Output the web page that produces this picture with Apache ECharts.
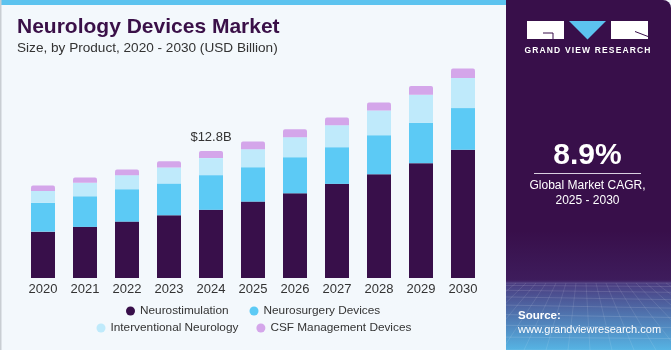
<!DOCTYPE html>
<html>
<head>
<meta charset="utf-8">
<script src="https://cdn.jsdelivr.net/npm/echarts@6/dist/echarts.min.js"></script>
<style>
html,body{margin:0;padding:0;background:#f3f8fc;}
#c{width:671px;height:350px;}
</style>
</head>
<body>
<div id="c"></div>
<script>
const categories = ['2020','2021','2022','2023','2024','2025','2026','2027','2028','2029','2030'];
const neurostimulation = [4.68, 5.16, 5.69, 6.33, 6.88, 7.71, 8.55, 9.50, 10.47, 11.59, 12.94];
const neurosurgery = [2.90, 3.09, 3.27, 3.21, 3.50, 3.47, 3.64, 3.70, 3.94, 4.08, 4.21];
const interventional = [1.21, 1.35, 1.42, 1.62, 1.72, 1.82, 2.02, 2.22, 2.50, 2.83, 3.03];
const csf = [0.54, 0.54, 0.58, 0.61, 0.71, 0.78, 0.81, 0.78, 0.81, 0.87, 0.95];
const labelIndex = 4;
const labelText = '$12.8B';

const FONT = '"Liberation Sans", Arial, sans-serif';
const chart = echarts.init(document.getElementById('c'), null, {renderer:'canvas'});

// decorative grid in the side panel
const deco = [];
const px0 = 506, px1 = 671, gy0 = 283, gy1 = 350;
for (let i = 0; i < 9; i++) {
  const t = i / 8;
  const y = gy0 + Math.pow(t, 1.6) * (gy1 - gy0);
  deco.push({type:'line', shape:{x1:px0, y1:y, x2:px1, y2:y + Math.sin(t*3)*3}, style:{stroke:'rgba(255,255,255,0.18)', lineWidth:0.7}, silent:true});
}
for (let i = -8; i <= 20; i++) {
  const xTop = px0 + i * 10;
  const xBot = px0 + (i - 6) * 22 + 40;
  deco.push({type:'line', shape:{x1:xTop, y1:gy0, x2:xBot, y2:gy1}, style:{stroke:'rgba(255,255,255,0.15)', lineWidth:0.7}, silent:true});
}

// letter-spaced logo caption
const brand = 'GRAND VIEW RESEARCH';
const brandEls = [];
(function(){
  const ctx = document.createElement('canvas').getContext('2d');
  const f = 'bold 8.5px ' + FONT;
  ctx.font = f;
  const ls = 1.15;
  const widths = brand.split('').map(ch => ctx.measureText(ch).width);
  const total = widths.reduce((a,b)=>a+b,0) + ls*(brand.length-1);
  let x = 587.5 - total/2;
  brand.split('').forEach((ch, i) => {
    brandEls.push({type:'text', x:x, y:51, style:{text:ch, fill:'#ffffff', font:f, verticalAlign:'middle'}, silent:true});
    x += widths[i] + ls;
  });
})();

const csfData = csf.map((v, i) => i === labelIndex ? {
  value: v,
  label: {show:true, position:'top', distance:7, formatter: labelText, color:'#333', fontSize:13, fontFamily:FONT}
} : v);

const option = {
  backgroundColor: '#f3f8fc',
  animation: false,
  textStyle: {fontFamily: FONT},
  grid: {left:22, right:187, top:60, bottom:72, containLabel:false},
  xAxis: {
    type:'category', data: categories,
    axisLine:{show:false}, axisTick:{show:false},
    axisLabel:{color:'#333', fontSize:13, margin:5, fontFamily:FONT}
  },
  yAxis: {type:'value', min:0, max:22, show:false, splitLine:{show:false}},
  legend: [
    {data:['Neurostimulation','Neurosurgery Devices'], left:126, top:305, padding:0, itemGap:21,
     icon:'circle', itemWidth:9, itemHeight:9, textStyle:{color:'#333', fontSize:11.8, fontFamily:FONT}},
    {data:['Interventional Neurology','CSF Management Devices'], left:96.5, top:322, padding:0, itemGap:18,
     icon:'circle', itemWidth:9, itemHeight:9, textStyle:{color:'#333', fontSize:11.8, fontFamily:FONT}}
  ],
  series: [
    {name:'Neurostimulation', type:'bar', stack:'t', data:neurostimulation, barWidth:24, itemStyle:{color:'#380f4a'}},
    {name:'Neurosurgery Devices', type:'bar', stack:'t', data:neurosurgery, barWidth:24, itemStyle:{color:'#5ccaf5'}},
    {name:'Interventional Neurology', type:'bar', stack:'t', data:interventional, barWidth:24, itemStyle:{color:'#bfeafb'}},
    {name:'CSF Management Devices', type:'bar', stack:'t', data:csfData, barWidth:24, itemStyle:{color:'#d4a6ea', borderRadius:[2,2,0,0]}}
  ],
  graphic: [
    // left panel frame
    {type:'rect', shape:{x:0, y:0, width:506, height:5}, style:{fill:'#5cc3ef'}, silent:true, z:-1},
    {type:'rect', shape:{x:0, y:0, width:1.5, height:350}, style:{fill:'#c9ced3'}, silent:true},
    // title
    {type:'text', left:17, top:17, style:{text:'Neurology Devices Market', fill:'#3a1048', font:'bold 21px ' + FONT}},
    {type:'text', left:17, top:41, style:{text:'Size, by Product, 2020 - 2030 (USD Billion)', fill:'#333', font:'13.6px ' + FONT}},
    // right panel
    {type:'rect', shape:{x:506, y:0, width:165, height:350, r:[0,8,0,0]},
     style:{fill:{type:'linear', x:0, y:0, x2:0, y2:1, colorStops:[
       {offset:0, color:'#380f4a'}, {offset:0.66, color:'#380f4a'}, {offset:0.8, color:'#3e1c5c'},
       {offset:0.81, color:'#4a3c80'}, {offset:1, color:'#56b4e4'}]}}, silent:true},
    ...deco,
    // logo
    {type:'rect', shape:{x:527, y:21, width:37, height:18}, style:{fill:'#ffffff'}, silent:true},
    {type:'polyline', shape:{points:[[543,33],[553,33],[553,39]]}, style:{stroke:'#380f4a', lineWidth:1, fill:null}, silent:true},
    {type:'polygon', shape:{points:[[569,21],[606,21],[587.5,39.5]]}, style:{fill:'#5cc3ef'}, silent:true},
    {type:'rect', shape:{x:611, y:21, width:37, height:18}, style:{fill:'#ffffff'}, silent:true},
    {type:'line', shape:{x1:635, y1:31.5, x2:648, y2:36.5}, style:{stroke:'#380f4a', lineWidth:1}, silent:true},
    ...brandEls,
    // CAGR
    {type:'text', x:587.5, y:156, style:{text:'8.9%', fill:'#ffffff', font:'bold 30px ' + FONT, align:'center', verticalAlign:'middle'}},
    {type:'rect', shape:{x:534, y:173, width:107, height:1}, style:{fill:'#d8cfe0'}, silent:true},
    {type:'text', x:587.5, y:185.5, style:{text:'Global Market CAGR,', fill:'#ffffff', font:'12px ' + FONT, align:'center', verticalAlign:'middle'}},
    {type:'text', x:587.5, y:201, style:{text:'2025 - 2030', fill:'#ffffff', font:'12px ' + FONT, align:'center', verticalAlign:'middle'}},
    // source
    {type:'text', x:518, y:316, style:{text:'Source:', fill:'#ffffff', font:'bold 11.5px ' + FONT, verticalAlign:'middle'}},
    {type:'text', x:518, y:329.5, style:{text:'www.grandviewresearch.com', fill:'#ffffff', font:'11px ' + FONT, verticalAlign:'middle'}}
  ]
};
chart.setOption(option);
</script>
</body>
</html>
